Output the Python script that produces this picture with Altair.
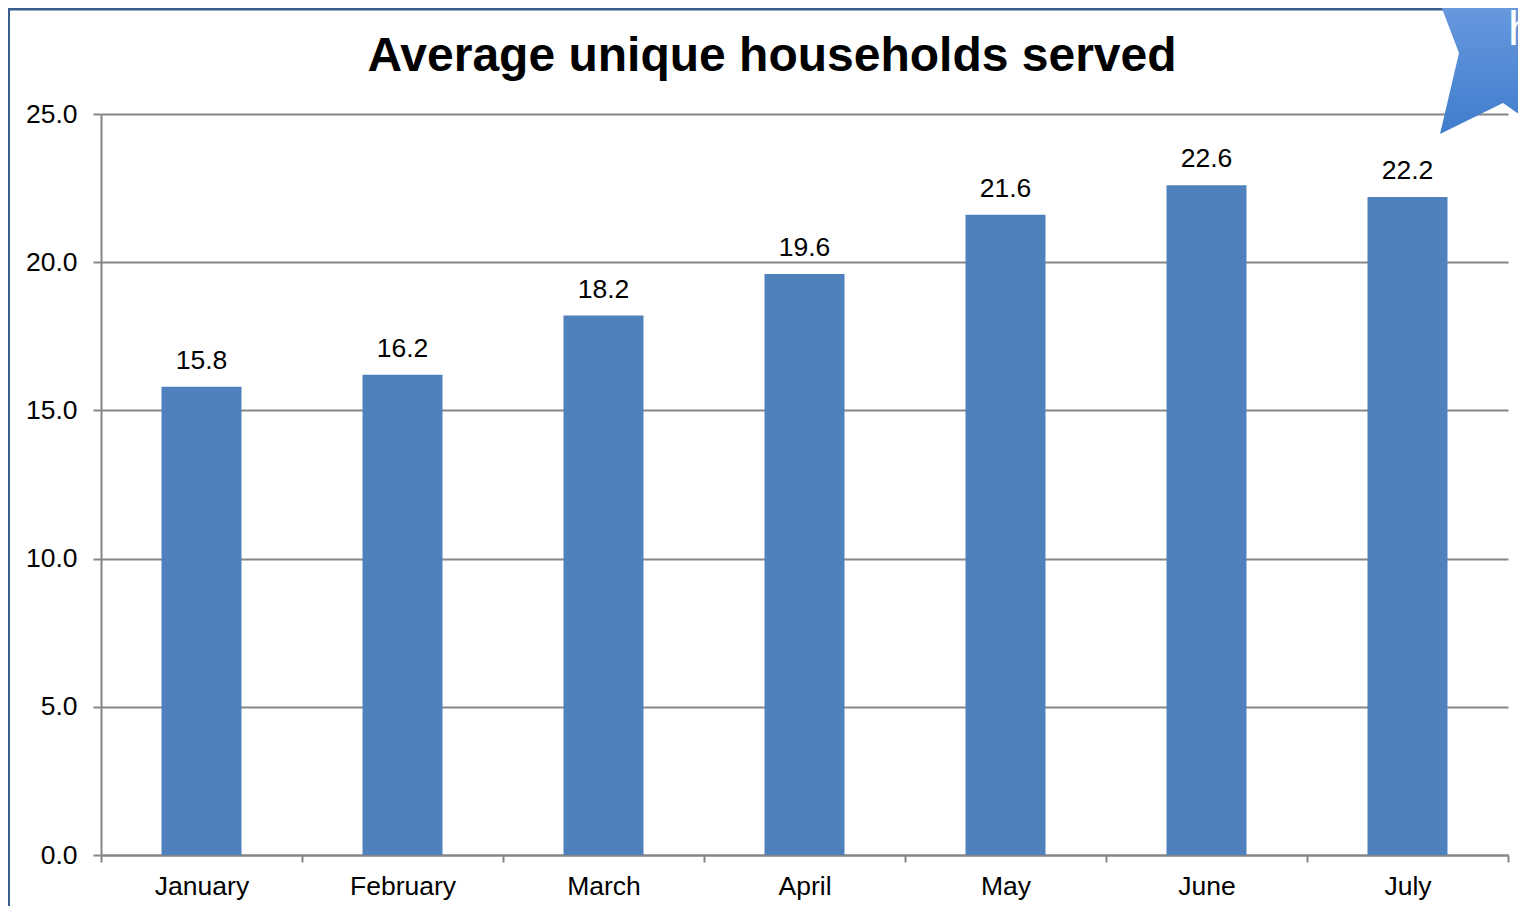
import altair as alt
import pandas as pd

months = ["January", "February", "March", "April", "May", "June", "July"]
households = [15.8, 16.2, 18.2, 19.6, 21.6, 22.6, 22.2]
y_ticks = [0, 5, 10, 15, 20, 25]
chart_title = "Average unique households served"
ribbon_letter = "h"

FONT = "Liberation Sans"
GRAY = "#868686"
BLUE = "#4F81BD"
FRAME = "#385D8A"
W, H = 1407, 741

df = pd.DataFrame({"month": months, "value": households})
one = alt.Chart(pd.DataFrame({"k": [0]}))

x = alt.X("month:N", sort=months, title=None,
          scale=alt.Scale(paddingInner=0, paddingOuter=0),
          axis=alt.Axis(labelAngle=0, labelFont=FONT, labelFontSize=26.5, labelColor="#000000",
                        domainColor=GRAY, domainWidth=2, tickColor=GRAY, tickWidth=2, tickSize=7,
                        tickBand="extent", labelPadding=11, grid=False))
y = alt.Y("value:Q", title=None, scale=alt.Scale(domain=[0, 25], nice=False),
          axis=alt.Axis(values=y_ticks, format=".1f", labelFont=FONT, labelFontSize=26.5,
                        labelColor="#000000", domainColor=GRAY, domainWidth=2, tickColor=GRAY,
                        tickWidth=2, tickSize=8, labelPadding=16, grid=True,
                        gridColor=GRAY, gridWidth=2))

base = alt.Chart(df)
bars = base.mark_bar(color=BLUE, width=80).encode(x=x, y=y)
labels = base.mark_text(font=FONT, fontSize=26.5, dy=-18, baseline="alphabetic",
                        color="#000000").encode(
    x=alt.X("month:N", sort=months), y=alt.Y("value:Q"), text=alt.Text("value:Q", format=".1f"))

title_text = one.mark_text(text=chart_title, font=FONT, fontSize=48, fontWeight="bold",
                           color="#000000", align="center", baseline="alphabetic").encode(
    x=alt.value(671), y=alt.value(-43))

frame_top = one.mark_rule(color=FRAME, strokeWidth=3).encode(
    x=alt.value(-93), x2=alt.value(1500), y=alt.value(-105))
frame_left = one.mark_rule(color=FRAME, strokeWidth=2).encode(
    x=alt.value(-92), y=alt.value(-106), y2=alt.value(800))

ribbon_path = ("M -0.42 -0.62 L -0.21 -0.07 L -0.40 0.74 L 0.23 0.43 "
               "L 0.50 0.62 L 0.50 -0.62 Z")
ribbon = one.mark_point(
    shape=ribbon_path, size=40000, opacity=1, strokeWidth=0, filled=True,
    fill=alt.Gradient(gradient="linear", x1=0, y1=0, x2=0, y2=1,
                      stops=[alt.GradientStop(color="#6B9ADF", offset=0),
                             alt.GradientStop(color="#3F7DCC", offset=1)])
).encode(x=alt.value(1379), y=alt.value(-54))
ribbon_text = one.mark_text(text=ribbon_letter, font=FONT, fontSize=48, color="#FFFFFF",
                            align="left", baseline="alphabetic").encode(
    x=alt.value(1407), y=alt.value(-69))

chart = alt.layer(bars, labels, title_text, frame_top, frame_left, ribbon, ribbon_text).properties(
    width=W, height=H,
    autosize=alt.AutoSizeParams(type="none"),
    padding={"left": 93, "top": 106, "right": 10, "bottom": 51},
).configure_view(stroke=None)

chart.save("out.html", embed_options={"renderer": "svg", "actions": False})
